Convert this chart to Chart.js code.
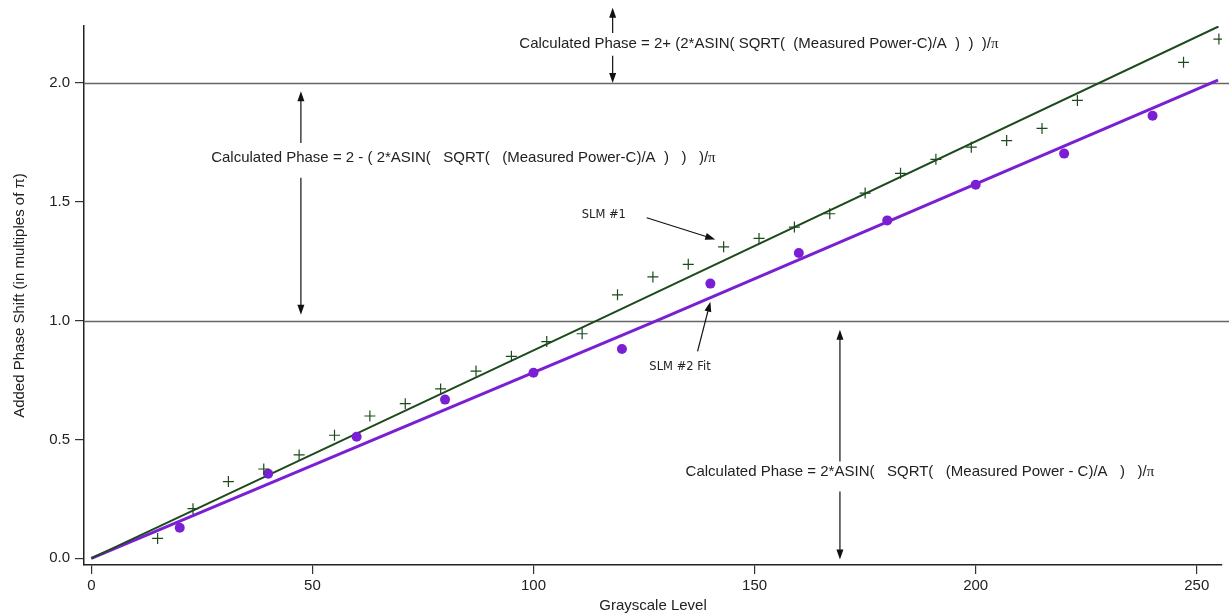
<!DOCTYPE html>
<html>
<head>
<meta charset="utf-8">
<script src="https://cdn.jsdelivr.net/npm/chart.js@4"></script>
<style>
  html, body { margin: 0; padding: 0; background: #fff; }
  canvas { display: block; }
</style>
</head>
<body>
<canvas id="phaseChart" width="1229" height="616"></canvas>
<script>
// measured points, SLM #1 (crosses)
const slm1X = [15, 23, 31, 39, 47, 55, 63, 71, 79, 87, 95, 103, 111, 119, 127, 135, 143, 151, 159, 167, 175, 183, 191, 199, 207, 215, 223, 247, 255];
const slm1Y = [0.084, 0.209, 0.323, 0.376, 0.435, 0.518, 0.599, 0.651, 0.713, 0.788, 0.850, 0.912, 0.945, 1.109, 1.184, 1.237, 1.311, 1.346, 1.394, 1.450, 1.537, 1.620, 1.679, 1.730, 1.758, 1.809, 1.927, 2.087, 2.185];

// measured points, SLM #2 (dots)
const slm2X = [20, 40, 60, 80, 100, 120, 140, 160, 180, 200, 220, 240];
const slm2Y = [0.129, 0.356, 0.512, 0.668, 0.781, 0.881, 1.156, 1.285, 1.422, 1.572, 1.703, 1.862];

// fit lines
const fit1X = [0, 114.3, 254.9];
const fit1Y = [0, 1.0, 2.238];
const fit2X = [0, 127.9, 254.8];
const fit2Y = [0, 1.0, 2.012];

// reference levels
const refLevels = [1.0, 2.0];

const SANS = '"Liberation Sans", Arial, Helvetica, sans-serif';
const GREEN = '#1c4a1c';
const PURPLE = '#7a1fd4';

const toPts = (xs, ys) => xs.map((x, i) => ({ x, y: ys[i] }));

// text notes and arrows, anchored in data units
const notes = [
  { text: 'Calculated Phase = 2+ (2*ASIN( SQRT(  (Measured Power-C)/A  )  )  )/π', x: 96.8, y: 2.165 },
  { text: 'Calculated Phase = 2 - ( 2*ASIN(   SQRT(   (Measured Power-C)/A  )   )   )/π', x: 27.1, y: 1.685 },
  { text: 'Calculated Phase = 2*ASIN(   SQRT(   (Measured Power - C)/A   )   )/π', x: 134.4, y: 0.365 },
  { text: 'SLM #1', x: 110.9, y: 1.443, small: true },
  { text: 'SLM #2 Fit', x: 126.2, y: 0.803, small: true }
];
const arrows = [
  [117.9, 2.211, 117.9, 2.317],
  [117.9, 2.115, 117.9, 2.0],
  [47.4, 1.748, 47.4, 1.965],
  [47.4, 1.601, 47.4, 1.025],
  [169.3, 0.407, 169.3, 0.962],
  [169.3, 0.281, 169.3, -0.005],
  [125.6, 1.433, 141.1, 1.342],
  [137.1, 0.871, 140.0, 1.080]
];

const refLines = {
  id: 'refLines',
  beforeDatasetsDraw(chart) {
    const { ctx, chartArea, scales: { y } } = chart;
    ctx.save();
    ctx.strokeStyle = '#666';
    ctx.lineWidth = 1.5;
    refLevels.forEach(v => {
      const py = Math.round(y.getPixelForValue(v)) + 0.5;
      ctx.beginPath();
      ctx.moveTo(chartArea.left, py);
      ctx.lineTo(chart.width, py);
      ctx.stroke();
    });
    ctx.restore();
  }
};

const notesPlugin = {
  id: 'notes',
  afterDraw(chart) {
    const { ctx, scales: { x, y } } = chart;
    ctx.save();
    ctx.strokeStyle = '#111';
    ctx.fillStyle = '#111';
    ctx.lineWidth = 1.2;
    arrows.forEach(([x0, y0, x1, y1]) => {
      const ax = x.getPixelForValue(x0), ay = y.getPixelForValue(y0);
      const bx = x.getPixelForValue(x1), by = y.getPixelForValue(y1);
      const ang = Math.atan2(by - ay, bx - ax);
      const len = 10, half = 3.5;
      ctx.beginPath();
      ctx.moveTo(ax, ay);
      ctx.lineTo(bx - Math.cos(ang) * len * 0.8, by - Math.sin(ang) * len * 0.8);
      ctx.stroke();
      ctx.beginPath();
      ctx.moveTo(bx, by);
      ctx.lineTo(bx - Math.cos(ang) * len - Math.sin(ang) * half, by - Math.sin(ang) * len + Math.cos(ang) * half);
      ctx.lineTo(bx - Math.cos(ang) * len + Math.sin(ang) * half, by - Math.sin(ang) * len - Math.cos(ang) * half);
      ctx.closePath();
      ctx.fill();
    });

    ctx.textBaseline = 'middle';
    ctx.textAlign = 'left';
    notes.forEach(n => {
      const px = x.getPixelForValue(n.x), py = y.getPixelForValue(n.y);
      if (n.small) {
        ctx.fillStyle = '#222';
        ctx.font = '11.5px "DejaVu Sans", sans-serif';
        ctx.fillText(n.text, px, py);
        return;
      }
      ctx.fillStyle = '#222';
      const body = n.text.endsWith('π') ? n.text.slice(0, -1) : n.text;
      ctx.font = '15px ' + SANS;
      ctx.fillText(body, px, py);
      if (body !== n.text) {
        const w = ctx.measureText(body).width;
        ctx.font = '15px "Liberation Serif", serif';
        ctx.fillText('π', px + w, py);
      }
    });
    ctx.restore();
  }
};

new Chart(document.getElementById('phaseChart'), {
  type: 'scatter',
  data: {
    datasets: [
      {
        label: 'SLM #1 fit',
        data: toPts(fit1X, fit1Y),
        showLine: true,
        borderColor: GREEN,
        borderWidth: 2,
        pointRadius: 0,
        order: 3
      },
      {
        label: 'SLM #2 Fit',
        data: toPts(fit2X, fit2Y),
        showLine: true,
        borderColor: PURPLE,
        borderWidth: 3,
        pointRadius: 0,
        order: 4
      },
      {
        label: 'SLM #1',
        data: toPts(slm1X, slm1Y),
        pointStyle: 'cross',
        pointRadius: 5.5,
        borderColor: GREEN,
        borderWidth: 1.2,
        order: 1
      },
      {
        label: 'SLM #2',
        data: toPts(slm2X, slm2Y),
        pointStyle: 'circle',
        pointRadius: 5,
        backgroundColor: PURPLE,
        borderColor: PURPLE,
        borderWidth: 0,
        order: 2
      }
    ]
  },
  options: {
    responsive: false,
    animation: false,
    layout: { padding: { top: 26, right: 7, left: 0, bottom: 0 } },
    plugins: {
      legend: { display: false },
      tooltip: { enabled: false }
    },
    scales: {
      x: {
        type: 'linear',
        min: -1.65,
        max: 255.7,
        afterFit: s => { s.height = 51; },
        border: { display: true, color: '#222', width: 1.5 },
        grid: { drawOnChartArea: false, drawTicks: true, tickLength: 9, color: '#333', lineWidth: 1.2 },
        ticks: {
          stepSize: 50,
          includeBounds: false,
          padding: 3,
          color: '#222',
          font: { family: SANS, size: 15 }
        },
        title: {
          display: true,
          text: 'Grayscale Level',
          color: '#222',
          font: { family: SANS, size: 15 },
          padding: { top: 0, bottom: 1 }
        }
      },
      y: {
        type: 'linear',
        min: -0.028,
        max: 2.24,
        afterFit: s => { s.width = 84; },
        border: { display: true, color: '#222', width: 1.5 },
        grid: { drawOnChartArea: false, drawTicks: true, tickLength: 9, color: '#333', lineWidth: 1.2 },
        ticks: {
          stepSize: 0.5,
          includeBounds: false,
          padding: 5,
          color: '#222',
          font: { family: SANS, size: 15 },
          callback: v => v.toFixed(1)
        },
        title: {
          display: true,
          text: 'Added Phase Shift (in multiples of π)',
          color: '#222',
          font: { family: SANS, size: 15 },
          padding: { top: 11, bottom: 0 }
        }
      }
    }
  },
  plugins: [refLines, notesPlugin]
});
</script>
</body>
</html>
